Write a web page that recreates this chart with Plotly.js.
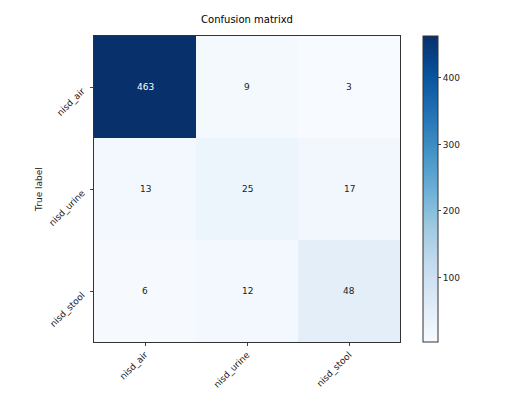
<!DOCTYPE html>
<html><head><meta charset="utf-8">
<script src="https://cdn.plot.ly/plotly-3.0.1.min.js"></script>
<style>html,body{margin:0;padding:0;background:#fff;}</style>
</head><body>
<div id="chart" style="width:512px;height:409px;"></div>
<script>
const predictedLabels = ["nisd_air", "nisd_urine", "nisd_stool"];
const trueLabels = ["nisd_air", "nisd_urine", "nisd_stool"];
const rowAir = [463, 9, 3];
const rowUrine = [13, 25, 17];
const rowStool = [6, 12, 48];
const matrix = [rowAir, rowUrine, rowStool];
const colorbarTicks = [100, 200, 300, 400];

const blues = [
  [0, "#f7fbff"], [0.125, "#deebf7"], [0.25, "#c6dbef"], [0.375, "#9ecae1"],
  [0.5, "#6baed6"], [0.625, "#4292c6"], [0.75, "#2171b5"], [0.875, "#08519c"], [1, "#08306b"]
];
const flat = matrix.flat();
const zmax = Math.max(...flat), zmin = Math.min(...flat);
const thresh = zmax / 2;
const annotations = [];
matrix.forEach((row, i) => row.forEach((v, j) => {
  annotations.push({x: predictedLabels[j], y: trueLabels[i], text: String(v), showarrow: false,
    font: {family: "DejaVu Sans", size: 9, color: v > thresh ? "#ffffff" : "#222222"}});
}));
const font = {family: "DejaVu Sans", size: 9, color: "#222"};
const data = [{
  type: "heatmap", x: predictedLabels, y: trueLabels, z: matrix,
  colorscale: blues, zmin: zmin, zmax: zmax, xgap: 0, ygap: 0,
  hoverinfo: "skip",
  colorbar: {x: 1.075, xanchor: "left", y: 0.5, yanchor: "middle", len: 1, lenmode: "fraction",
    thickness: 15, thicknessmode: "pixels", outlinewidth: 1, outlinecolor: "#333",
    tickvals: colorbarTicks, ticks: "outside", ticklen: 3, tickfont: font, xpad: 0, ypad: 0}
}];
const layout = {
  width: 512, height: 409,
  margin: {l: 94, r: 112, t: 36, b: 67},
  paper_bgcolor: "#fff", plot_bgcolor: "#fff",
  font: font,
  title: {text: "Confusion matrixd", font: {family: "DejaVu Sans", size: 10, color: "#000"}, x: 0.4825, xanchor: "center", y: 0.952, yanchor: "middle"},
  xaxis: {type: "category", tickangle: -45, ticks: "outside", ticklen: 3, showline: true, mirror: true, linecolor: "#333", linewidth: 1, showgrid: false, zeroline: false, tickfont: font},
  yaxis: {type: "category", autorange: "reversed", tickangle: -45, ticks: "outside", ticklen: 3, showline: true, mirror: true, linecolor: "#333", linewidth: 1, showgrid: false, zeroline: false, tickfont: font,
    ticklabelshift: -3, ticklabelstandoff: 6,
    title: {text: "True label", font: font, standoff: 2}},
  annotations: annotations
};
Plotly.newPlot("chart", data, layout, {displayModeBar: false, staticPlot: true});
</script>
</body></html>
